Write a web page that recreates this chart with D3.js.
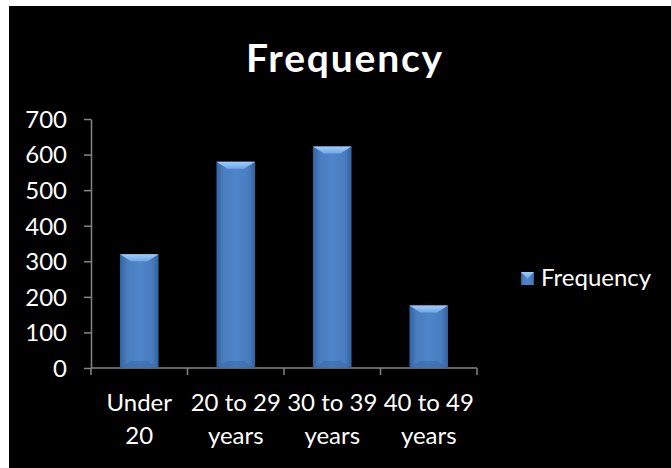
<!DOCTYPE html>
<html>
<head>
<meta charset="utf-8">
<script src="https://cdn.jsdelivr.net/npm/d3@7"></script>
<style>
  html, body { margin: 0; padding: 0; background: #ffffff; }
  svg { display: block; }
  text { font-family: Lato, "Open Sans", sans-serif; fill: #ffffff; }
</style>
</head>
<body>
<svg id="chart" width="671" height="468"></svg>
<script>
// Age groups and their counts
const categories = [["Under", "20"], ["20 to 29", "years"], ["30 to 39", "years"], ["40 to 49", "years"]];
const frequency = [320, 580, 623, 176];
const yTicks = [0, 100, 200, 300, 400, 500, 600, 700];
const seriesName = "Frequency";
const chartTitle = "Frequency";

const W = 671, H = 468;
const plot = { left: 91, right: 477, top: 119, bottom: 368 };
const labelSize = "24px";

const svg = d3.select("#chart");

// Gradients for the bevelled bars
const defs = svg.append("defs");
const body = defs.append("linearGradient").attr("id", "barBody").attr("x1", 0).attr("x2", 1).attr("y1", 0).attr("y2", 0);
body.append("stop").attr("offset", "0%").attr("stop-color", "#33619f");
body.append("stop").attr("offset", "18%").attr("stop-color", "#497dbf");
body.append("stop").attr("offset", "50%").attr("stop-color", "#4e86c9");
body.append("stop").attr("offset", "82%").attr("stop-color", "#497dbf");
body.append("stop").attr("offset", "100%").attr("stop-color", "#33619f");
const topBevel = defs.append("linearGradient").attr("id", "barTop").attr("x1", 0).attr("x2", 0).attr("y1", 0).attr("y2", 1);
topBevel.append("stop").attr("offset", "0%").attr("stop-color", "#a3ccf7");
topBevel.append("stop").attr("offset", "100%").attr("stop-color", "#6fa8e8");

// Black chart area
svg.append("rect").attr("x", 9).attr("y", 6).attr("width", W - 9).attr("height", H - 6).attr("fill", "#000000");

// Title
svg.append("text")
  .attr("x", 345).attr("y", 72)
  .attr("text-anchor", "middle")
  .style("font-weight", "bold")
  .style("font-size", "39px")
  .style("letter-spacing", "1.8px")
  .text(chartTitle);

const x = d3.scaleBand()
  .domain(d3.range(categories.length))
  .range([plot.left, plot.right])
  .paddingInner(0.6)
  .paddingOuter(0.3);

const y = d3.scaleLinear().domain([0, 700]).range([plot.bottom, plot.top]);

const axisColor = "#858585";

// Y axis
const yAxis = svg.append("g")
  .attr("transform", `translate(${plot.left},0)`)
  .call(d3.axisLeft(y).tickValues(yTicks).tickSize(7).tickSizeOuter(0).tickPadding(17));
yAxis.select(".domain").attr("stroke", axisColor).attr("stroke-width", 1.5);
yAxis.selectAll(".tick line").attr("stroke", axisColor).attr("stroke-width", 1.5);
yAxis.selectAll(".tick text")
  .attr("fill", "#ffffff")
  .style("font-family", "Lato, sans-serif")
  .style("font-size", labelSize)
  .attr("dy", "0.35em");

// X axis line with category boundary ticks
const step = x.step();
const gap = step - x.bandwidth();
const bounds = categories.map((c, i) => x(i) - gap / 2).concat([x(categories.length - 1) + x.bandwidth() + gap / 2]);
const xAxis = svg.append("g").attr("transform", `translate(0,${plot.bottom})`);
xAxis.append("line")
  .attr("x1", plot.left).attr("x2", plot.right)
  .attr("stroke", axisColor).attr("stroke-width", 1.5);
xAxis.selectAll("line.tick").data(bounds).join("line")
  .attr("class", "tick")
  .attr("x1", d => d).attr("x2", d => d)
  .attr("y1", 0).attr("y2", 7)
  .attr("stroke", axisColor).attr("stroke-width", 1.5);

// Two-line category labels
const labels = xAxis.selectAll("text.cat").data(categories).join("text")
  .attr("class", "cat")
  .attr("text-anchor", "middle")
  .style("font-size", labelSize);
labels.each(function(lines, i) {
  const t = d3.select(this);
  lines.forEach((s, k) => {
    t.append("tspan")
      .attr("x", x(i) + x.bandwidth() / 2)
      .attr("y", 43 + k * 33)
      .text(s);
  });
});

// Bevelled bars
const bev = 7, inset = 11;
const bars = svg.append("g").selectAll("g").data(frequency).join("g");
bars.append("rect")
  .attr("x", (d, i) => x(i))
  .attr("y", d => y(d))
  .attr("width", x.bandwidth())
  .attr("height", d => y(0) - y(d))
  .attr("fill", "url(#barBody)");
bars.append("path")
  .attr("d", (d, i) => {
    const x0 = x(i), x1 = x(i) + x.bandwidth(), yt = y(d);
    return `M${x0},${yt}L${x1},${yt}L${x1 - inset},${yt + bev}L${x0 + inset},${yt + bev}Z`;
  })
  .attr("fill", "url(#barTop)");
bars.append("path")
  .attr("d", (d, i) => {
    const x0 = x(i), x1 = x(i) + x.bandwidth(), yb = y(0);
    return `M${x0},${yb}L${x1},${yb}L${x1 - inset},${yb - bev}L${x0 + inset},${yb - bev}Z`;
  })
  .attr("fill", "#3b6aa8").attr("opacity", 0.6);

// Legend
const lg = svg.append("g").attr("transform", "translate(521,272)");
const ls = 13;
lg.append("rect").attr("width", ls).attr("height", ls).attr("fill", "url(#barBody)");
lg.append("path").attr("d", `M0,0L${ls},0L${ls / 2},${ls / 2}Z`).attr("fill", "url(#barTop)");
lg.append("text")
  .attr("x", 20).attr("y", 14)
  .style("font-size", labelSize)
  .text(seriesName);
</script>
</body>
</html>
